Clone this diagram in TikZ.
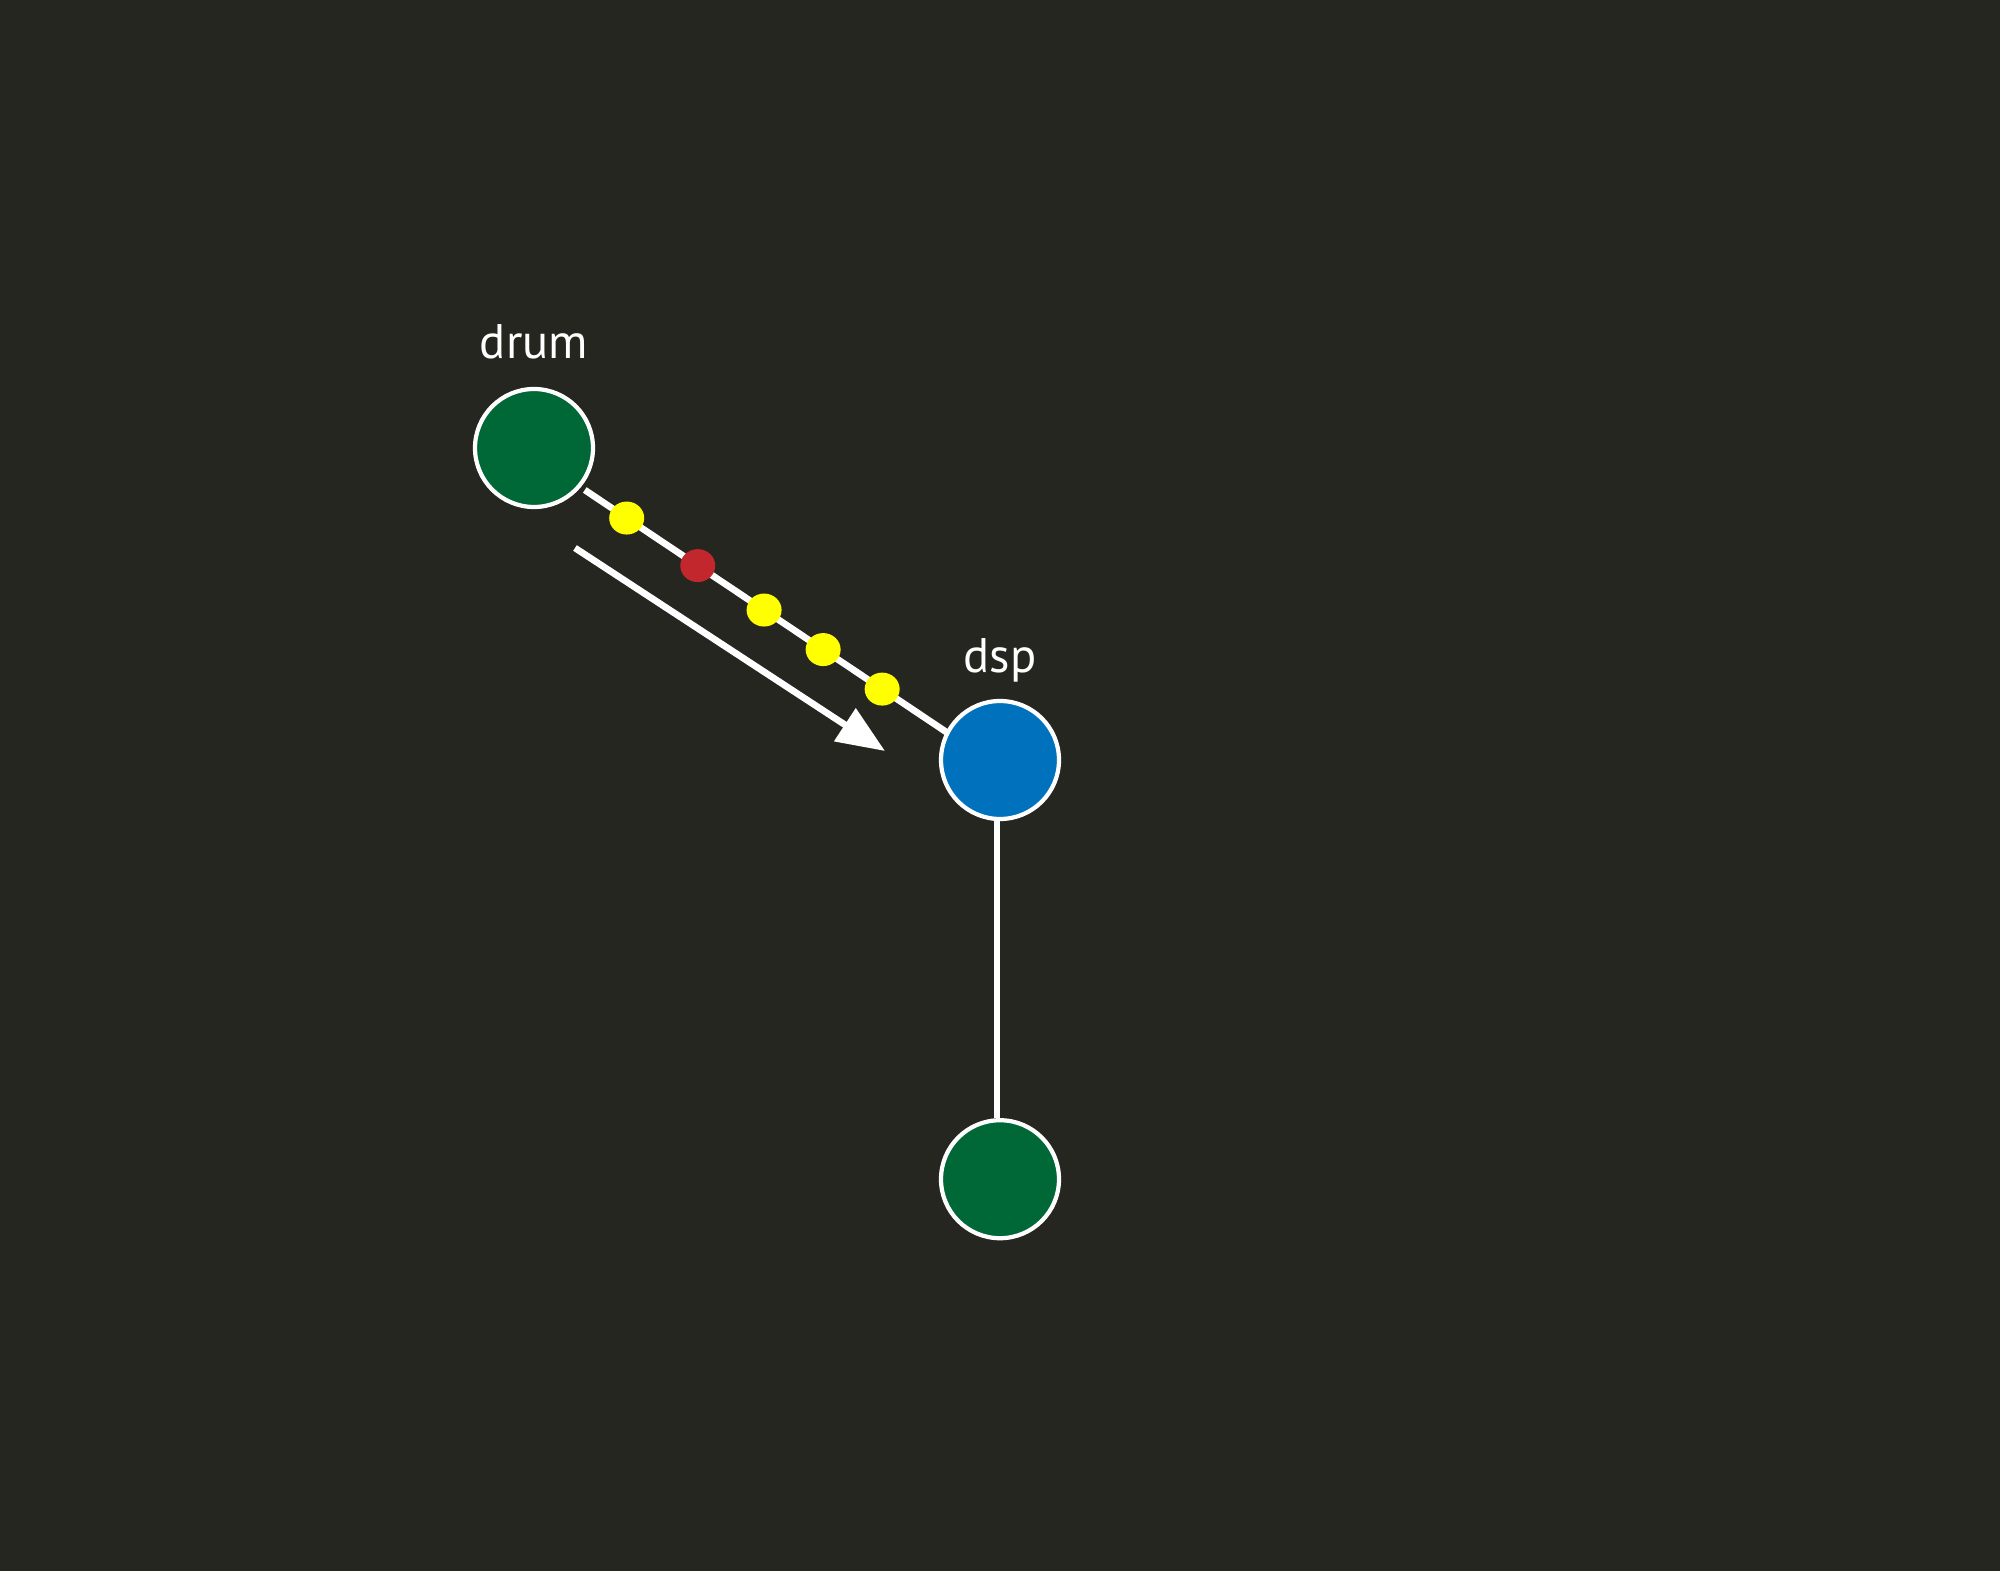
\documentclass[tikz,border=0pt]{standalone}
\usepackage{fontspec}
\setmainfont{PT Sans}
\usetikzlibrary{shapes,arrows.meta,positioning}

\definecolor{board}{RGB}{38,38,33}
\definecolor{drumgreen}{RGB}{0,104,55}
\definecolor{dspblue}{RGB}{0,113,188}
\definecolor{pktyellow}{RGB}{255,255,0}
\definecolor{pktred}{RGB}{193,39,45}

\pgfdeclarelayer{backdrop}
\pgfdeclarelayer{wires}
\pgfsetlayers{backdrop,wires,main}

\begin{document}
\begin{tikzpicture}[
    hub/.style={circle, draw=white, line width=1.2pt, minimum size=1.18cm, inner sep=0pt},
    wire/.style={draw=white, line width=1.9pt},
    packet/.style={ellipse, minimum width=0.35cm, minimum height=0.33cm, inner sep=0pt},
    lbl/.style={text=white, font=\fontsize{13.8}{16}\selectfont}
  ]
  % Backdrop
  \begin{pgfonlayer}{backdrop}
    \fill[board] (0,0) rectangle (20,-15.71);
  \end{pgfonlayer}
  \useasboundingbox (0,0) rectangle (20,-15.71);

  % Nodes
  \node[hub, fill=drumgreen] (drum) at (5.34,-4.48) {};
  \node[hub, fill=dspblue] (dsp) at (10.00,-7.60) {};
  \node[hub, fill=drumgreen, below=2.97cm of dsp] (out) {};

  % Labels
  \node[lbl, above=0.28cm of drum.north, anchor=base] (drumlbl) {drum};
  \node[lbl, above=0.26cm of dsp.north, anchor=base] (dsplbl) {dsp};

  % Connectors with packets
  \begin{pgfonlayer}{wires}
    \draw[wire, transform canvas={yshift=-0.08cm}] (drum) -- (dsp)
      node[packet, fill=pktyellow, pos=0.115] (pkt1) {}
      node[packet, fill=pktred, pos=0.31] (pkt2) {}
      node[packet, fill=pktyellow, pos=0.492] (pkt3) {}
      node[packet, fill=pktyellow, pos=0.654] (pkt4) {}
      node[packet, fill=pktyellow, pos=0.816] (pkt5) {};
    \draw[wire, transform canvas={xshift=-0.03cm}] (dsp) -- (out);
  \end{pgfonlayer}

  % Flow arrow
  \coordinate (flowstart) at (5.75,-5.48);
  \coordinate (flowend) at (8.85,-7.51);
  \draw[wire, -{Triangle[length=0.48cm, width=0.38cm]}] (flowstart) -- (flowend);
\end{tikzpicture}
\end{document}
